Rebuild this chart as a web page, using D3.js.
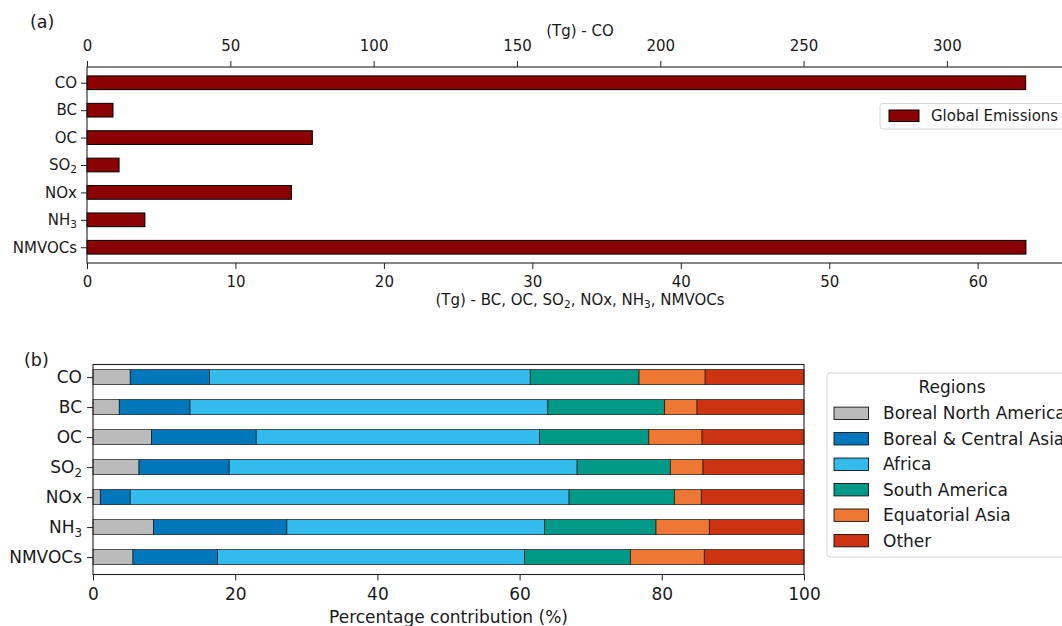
<!DOCTYPE html>
<html>
<head>
<meta charset="utf-8">
<script src="https://cdn.jsdelivr.net/npm/d3@7"></script>
<style>
  html, body { margin: 0; padding: 0; background: #fff; }
  svg { display: block; font-family: "DejaVu Sans", sans-serif; }
</style>
</head>
<body>
<svg id="chart" width="1062" height="626"></svg>
<script>
// ---------------- DATA ----------------
const categories = ["CO", "BC", "OC", "SO2", "NOx", "NH3", "NMVOCs"];
// Global emissions (Tg). CO read on the top axis, the others on the bottom axis.
const globalEmissions = [327.5, 1.75, 15.18, 2.16, 13.77, 3.90, 63.25];
const coTicks = [0, 50, 100, 150, 200, 250, 300];
const otherTicks = [0, 10, 20, 30, 40, 50, 60];
const pctTicks = [0, 20, 40, 60, 80, 100];

const regions = ["Boreal North America", "Boreal & Central Asia", "Africa",
                 "South America", "Equatorial Asia", "Other"];
const regionColors = ["#BBBBBB", "#0077BB", "#33BBEE", "#009988", "#EE7733", "#CC3311"];
// Percentage contribution per category (order = categories)
const borealNorthAmerica = [5.24, 3.70, 8.24, 6.47, 1.03, 8.52, 5.62];
const borealCentralAsia  = [11.16, 9.94, 14.72, 12.69, 4.21, 18.75, 11.90];
const africa             = [45.10, 50.33, 39.83, 48.93, 61.72, 36.22, 43.16];
const southAmerica       = [15.30, 16.43, 15.38, 13.11, 14.81, 15.70, 14.90];
const equatorialAsia     = [9.30, 4.56, 7.49, 4.60, 3.79, 7.50, 10.40];
const other              = [13.90, 15.04, 14.34, 14.20, 14.44, 13.31, 14.02];
const regionSeries = [borealNorthAmerica, borealCentralAsia, africa, southAmerica, equatorialAsia, other];

// ---------------- HELPERS ----------------
const svg = d3.select("#chart");
const TXT = "#1a1a1a";
const FS_A = "15px", FS_B = "17px";

// write text with digits following letters as subscripts
function richText(textSel, str) {
  textSel.text(null);
  const runs = [];
  let buf = "";
  let i = 0;
  while (i < str.length) {
    const ch = str[i];
    if (/\d/.test(ch) && i > 0 && /[A-Za-z]/.test(str[i - 1])) {
      if (buf) { runs.push({t: buf, sub: false}); buf = ""; }
      let d = "";
      while (i < str.length && /\d/.test(str[i])) { d += str[i]; i++; }
      runs.push({t: d, sub: true});
      continue;
    }
    buf += ch; i++;
  }
  if (buf) runs.push({t: buf, sub: false});
  let prevSub = false;
  runs.forEach(r => {
    const ts = textSel.append("tspan").text(r.t);
    if (r.sub) {
      ts.attr("font-size", "70%").attr("dy", "0.3em");
      prevSub = true;
    } else if (prevSub) {
      ts.attr("dy", "-0.21em");
      prevSub = false;
    }
  });
}

function styleAxis(g, fs) {
  g.select(".domain").remove();
  g.selectAll(".tick line").attr("stroke", "#222").attr("stroke-width", 1);
  g.selectAll(".tick text").attr("fill", TXT).attr("font-size", fs)
    .attr("font-family", "DejaVu Sans");
}

// ---------------- PANEL (a) ----------------
const aL = 87, aR = 1073, aT = 67, aB = 263;
const xBot = d3.scaleLinear().domain([0, 66.42]).range([aL, aR]);
const xTop = d3.scaleLinear().domain([0, 344.0]).range([aL, aR]);
const yA = d3.scaleLinear().domain([-0.575, 6.575]).range([aT, aB]);
const barHA = yA(0.5) - yA(0);

const gA = svg.append("g");
gA.selectAll("rect.em")
  .data(categories.map((c, i) => ({c, i, v: globalEmissions[i]})))
  .join("rect")
  .attr("class", "em")
  .attr("x", d => aL)
  .attr("y", d => yA(d.i) - barHA / 2)
  .attr("height", barHA)
  .attr("width", d => (d.c === "CO" ? xTop(d.v) : xBot(d.v)) - aL)
  .attr("fill", "#8B0000")
  .attr("stroke", "#000")
  .attr("stroke-width", 1);

// axes
const axTop = gA.append("g").attr("transform", `translate(0,${aT})`)
  .call(d3.axisTop(xTop).tickValues(coTicks).tickSize(6).tickPadding(10).tickFormat(d3.format("d")));
styleAxis(axTop, FS_A);
const axBot = gA.append("g").attr("transform", `translate(0,${aB})`)
  .call(d3.axisBottom(xBot).tickValues(otherTicks).tickSize(6).tickPadding(7).tickFormat(d3.format("d")));
styleAxis(axBot, FS_A);
const axLeftA = gA.append("g").attr("transform", `translate(${aL},0)`)
  .call(d3.axisLeft(yA).tickValues(d3.range(categories.length)).tickSize(6).tickPadding(4)
    .tickFormat(i => categories[i]));
styleAxis(axLeftA, FS_A);
axLeftA.selectAll(".tick text").each(function(i) { richText(d3.select(this), categories[i]); });

// spines
gA.append("rect").attr("x", aL).attr("y", aT).attr("width", aR - aL).attr("height", aB - aT)
  .attr("fill", "none").attr("stroke", "#222").attr("stroke-width", 1.1);

gA.append("text").attr("x", (aL + aR) / 2).attr("y", 36).attr("text-anchor", "middle")
  .attr("font-size", FS_A).attr("fill", TXT).text("(Tg) - CO");
const xlabA = gA.append("text").attr("x", (aL + aR) / 2).attr("y", 305).attr("text-anchor", "middle")
  .attr("font-size", FS_A).attr("fill", TXT);
richText(xlabA, "(Tg) - BC, OC, SO2, NOx, NH3, NMVOCs");

svg.append("text").attr("x", 30).attr("y", 28).attr("font-size", "17.5px").attr("fill", TXT).text("(a)");

// legend (a)
const lgA = svg.append("g");
lgA.append("rect").attr("x", 880).attr("y", 103.5).attr("width", 200).attr("height", 25.5)
  .attr("rx", 3).attr("fill", "#fff").attr("stroke", "#d6d6d6").attr("stroke-width", 1);
lgA.append("rect").attr("x", 889).attr("y", 110).attr("width", 30).attr("height", 11.5)
  .attr("fill", "#8B0000").attr("stroke", "#000").attr("stroke-width", 1);
lgA.append("text").attr("x", 931).attr("y", 121).attr("font-size", FS_A).attr("fill", TXT)
  .text("Global Emissions");

// ---------------- PANEL (b) ----------------
const bL = 93, bR = 804, bT = 364.5, bB = 574.5;
const xB = d3.scaleLinear().domain([0, 100]).range([bL, bR]);
const yB = d3.scaleLinear().domain([-0.42, 6.58]).range([bT, bB]);
const barHB = yB(0.5) - yB(0);

const rows = categories.map((c, i) => {
  const o = {cat: c, i};
  regions.forEach((r, k) => { o[r] = regionSeries[k][i]; });
  return o;
});
const stacked = d3.stack().keys(regions)(rows);

const gB = svg.append("g");
gB.selectAll("g.series")
  .data(stacked)
  .join("g")
  .attr("class", "series")
  .attr("fill", (d, k) => regionColors[k])
  .selectAll("rect")
  .data(d => d)
  .join("rect")
  .attr("x", d => xB(d[0]))
  .attr("width", d => xB(d[1]) - xB(d[0]))
  .attr("y", d => yB(d.data.i) - barHB / 2)
  .attr("height", barHB)
  .attr("stroke", "#111")
  .attr("stroke-opacity", 0.85)
  .attr("stroke-width", 0.8);

const axBotB = gB.append("g").attr("transform", `translate(0,${bB})`)
  .call(d3.axisBottom(xB).tickValues(pctTicks).tickSize(6).tickPadding(7).tickFormat(d3.format("d")));
styleAxis(axBotB, FS_B);
const axLeftB = gB.append("g").attr("transform", `translate(${bL},0)`)
  .call(d3.axisLeft(yB).tickValues(d3.range(categories.length)).tickSize(6).tickPadding(5)
    .tickFormat(i => categories[i]));
styleAxis(axLeftB, FS_B);
axLeftB.selectAll(".tick text").each(function(i) { richText(d3.select(this), categories[i]); });

gB.append("rect").attr("x", bL).attr("y", bT).attr("width", bR - bL).attr("height", bB - bT)
  .attr("fill", "none").attr("stroke", "#222").attr("stroke-width", 1.1);

gB.append("text").attr("x", (bL + bR) / 2).attr("y", 623).attr("text-anchor", "middle")
  .attr("font-size", FS_B).attr("fill", TXT).text("Percentage contribution (%)");

svg.append("text").attr("x", 24).attr("y", 366).attr("font-size", "17.5px").attr("fill", TXT).text("(b)");

// legend (b)
const lgB = svg.append("g");
lgB.append("rect").attr("x", 827).attr("y", 373).attr("width", 260).attr("height", 184)
  .attr("rx", 3).attr("fill", "#fff").attr("stroke", "#d6d6d6").attr("stroke-width", 1);
lgB.append("text").attr("x", 952).attr("y", 393).attr("text-anchor", "middle")
  .attr("font-size", FS_B).attr("fill", TXT).text("Regions");
const ent = lgB.selectAll("g.ent").data(regions).join("g").attr("class", "ent")
  .attr("transform", (d, k) => `translate(0,${413.3 + k * 25.47})`);
ent.append("rect").attr("x", 834).attr("y", -6.2).attr("width", 34.5).attr("height", 12.4)
  .attr("fill", (d, k) => regionColors[k]).attr("stroke", "#111").attr("stroke-width", 0.9);
ent.append("text").attr("x", 883).attr("y", 6).attr("font-size", FS_B).attr("fill", TXT)
  .text(d => d);
</script>
</body>
</html>
